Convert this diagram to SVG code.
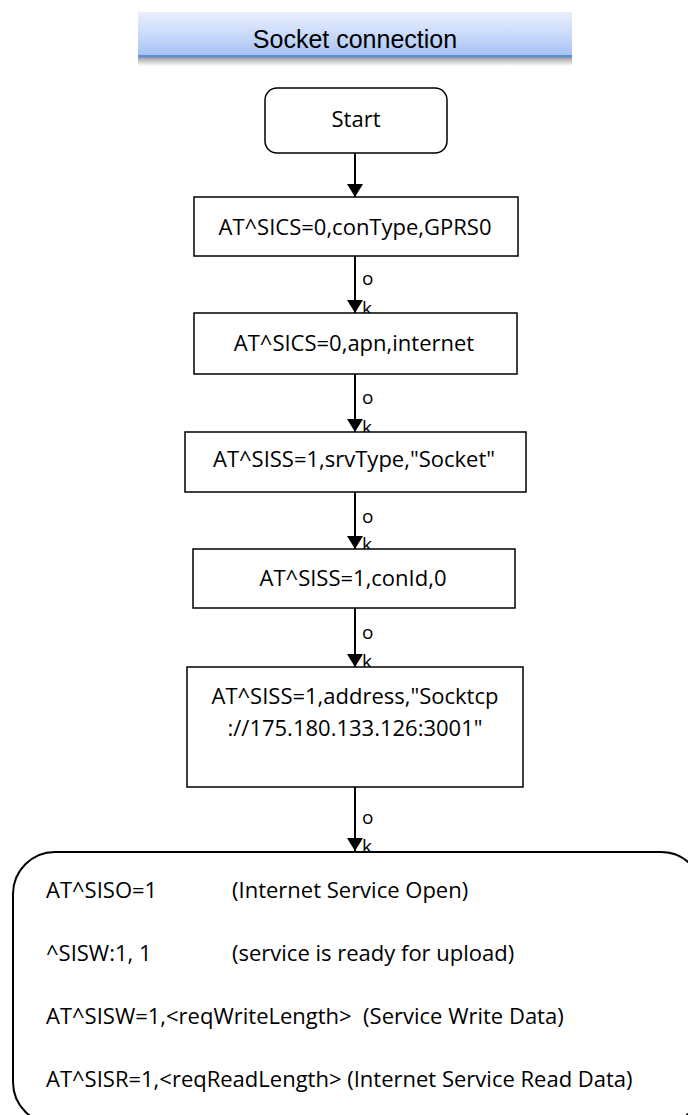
<svg xmlns="http://www.w3.org/2000/svg" width="688" height="1115" viewBox="0 0 688 1115">
<defs>
<linearGradient id="tg" x1="0" y1="0" x2="0" y2="1">
<stop offset="0" stop-color="#e9effc"/>
<stop offset="0.5" stop-color="#c9daf9"/>
<stop offset="1" stop-color="#a3c1f4"/>
</linearGradient>
<linearGradient id="sh" x1="0" y1="0" x2="0" y2="1">
<stop offset="0" stop-color="#9a9a9a"/>
<stop offset="1" stop-color="#ffffff"/>
</linearGradient>
<marker id="ah" viewBox="0 0 13 16" refX="13" refY="8" markerWidth="13" markerHeight="16" markerUnits="userSpaceOnUse" orient="auto">
<path d="M0,0 L13,8 L0,16 Z" fill="#000"/>
</marker>
</defs>
<style>
.box{fill:#fff;stroke:#000;stroke-width:1.5}
.t{font-family:"Open Sans","Noto Sans",sans-serif;font-size:22px;fill:#000}
.c{text-anchor:middle}
.lbl{font-family:"Open Sans","Noto Sans",sans-serif;font-size:19px;fill:#000}
.ln{stroke:#000;stroke-width:2;fill:none}
</style>
<rect width="688" height="1115" fill="#fff"/>
<g id="title">
<rect x="138" y="57" width="434" height="9" fill="url(#sh)"/>
<rect x="138" y="12" width="434" height="45" fill="url(#tg)"/>
<rect x="138" y="55" width="434" height="2.5" fill="#5f8fd2"/>
<text x="355" y="48" text-anchor="middle" font-family="Liberation Sans, Arial, sans-serif" font-size="25">Socket connection</text>
</g>
<g id="connectors">
<line class="ln" x1="355" y1="153" x2="355" y2="197" marker-end="url(#ah)"/>
<line class="ln" x1="355" y1="256" x2="355" y2="313" marker-end="url(#ah)"/>
<text class="lbl" x="362" y="285">o</text><text class="lbl" x="362" y="315">k</text>
<line class="ln" x1="355" y1="374" x2="355" y2="432" marker-end="url(#ah)"/>
<text class="lbl" x="362" y="404">o</text><text class="lbl" x="362" y="434">k</text>
<line class="ln" x1="355" y1="492" x2="355" y2="549" marker-end="url(#ah)"/>
<text class="lbl" x="362" y="523">o</text><text class="lbl" x="362" y="551">k</text>
<line class="ln" x1="355" y1="608" x2="355" y2="667" marker-end="url(#ah)"/>
<text class="lbl" x="362" y="639">o</text><text class="lbl" x="362" y="668">k</text>
<line class="ln" x1="355" y1="787" x2="355" y2="851" marker-end="url(#ah)"/>
<text class="lbl" x="362" y="824">o</text><text class="lbl" x="362" y="853">k</text>
</g>
<g id="start">
<rect class="box" x="265" y="88" width="182" height="65" rx="12"/>
<text class="t c" x="356" y="127">Start</text>
</g>
<g id="n1">
<rect class="box" x="194" y="197" width="324" height="59"/>
<text class="t c" x="355" y="235">AT^SICS=0,conType,GPRS0</text>
</g>
<g id="n2">
<rect class="box" x="194" y="313" width="323" height="61"/>
<text class="t c" x="354" y="351">AT^SICS=0,apn,internet</text>
</g>
<g id="n3">
<rect class="box" x="185" y="432" width="341" height="60"/>
<text class="t c" x="354" y="467">AT^SISS=1,srvType,"Socket"</text>
</g>
<g id="n4">
<rect class="box" x="193" y="549" width="322" height="59"/>
<text class="t c" x="353" y="586">AT^SISS=1,conId,0</text>
</g>
<g id="n5">
<rect class="box" x="187" y="667" width="336" height="120"/>
<text class="t c" x="355" y="704">AT^SISS=1,address,"Socktcp</text>
<text class="t c" x="355" y="736">://175.180.133.126:3001"</text>
</g>
<g id="n6">
<rect x="13" y="852" width="690" height="272" rx="42" fill="#fff" stroke="#000" stroke-width="2"/>
<text class="t" x="46" y="898">AT^SISO=1</text>
<text class="t" x="232" y="898">(Internet Service Open)</text>
<text class="t" x="46" y="961">^SISW:1, 1</text>
<text class="t" x="232" y="961">(service is ready for upload)</text>
<text class="t" x="46" y="1024" xml:space="preserve">AT^SISW=1,&lt;reqWriteLength&gt;  (Service Write Data)</text>
<text class="t" x="46" y="1087">AT^SISR=1,&lt;reqReadLength&gt; (Internet Service Read Data)</text>
</g>
</svg>
